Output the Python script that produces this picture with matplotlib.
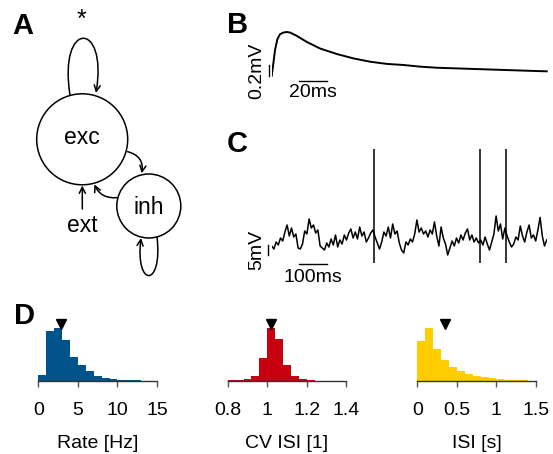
import numpy as np
import matplotlib
matplotlib.use("Agg")
import matplotlib.pyplot as plt
from matplotlib.patches import Circle, FancyArrowPatch
from matplotlib.path import Path

# datos del panel B (PSP), t en ms y v en mV
t_psp = [0, 1.2, 2.4, 4.1, 6.0, 8.4, 10.9, 13.3, 18.1, 25.3, 34.9, 47.0, 59.0, 71.0,
         83.1, 95.1, 107.1, 119.2, 131.2, 143.2, 155.3, 167.3, 179.3, 191.4, 198.6]
v_psp = [0, 0.23, 0.47, 0.67, 0.76, 0.79, 0.80, 0.79, 0.73, 0.62, 0.50, 0.40, 0.32,
         0.26, 0.22, 0.20, 0.17, 0.15, 0.14, 0.13, 0.12, 0.11, 0.10, 0.09, 0.085]

# datos del panel C (potencial de membrana), paso de 8 ms
t_vm = list(range(0, 1001, 8))
v_vm = [2, 0.5, 4, 2.5, 6, 4.5, 9, 12.5, 7, 11, 6.5, 8, 1, 0.5, 3, 9.5, 8, 15.5, 11, 12.5,
        8.5, 10, 2, 1, 0, 3.5, 1.5, 5.5, 2.5, 7.5, 1.5, 5, 3, 7.5, 5, 8.5, 10.5, 6, 9, 5.5,
        11.5, 7, 9, 4, 6, 8.5, 10, 6.5, 3.5, 0.5, 4, 9, 7, 11.5, 6, 13, 8, 9.5, 3.5, 0,
        -1.5, 4, 2.5, 5.5, 4, 8, 15, 9, 11, 8, 9.5, 6.5, 10, 8, 14, 7, 2, 11.5, 6, 3,
        -2.5, 1, 4.5, 2, 6, 3.5, 7.5, 5, 8.5, 10.5, 5, 7.5, 4, 6, 3.5, 5, 2.5, 6.5, 3, 0,
        4, 8, 17, 9.5, 13, 5.5, 11, 7, 4, 1.5, 3, 6.5, 5, 12, 7, 4, 9, 12.5, 6, 7.5,
        4.5, 10, 16.3, 7, 2, 5]
spike_t = [373, 759, 852]
spike_top = 50.3
spike_bottom = -6.3

# histogramas del panel D
rate_edges = np.arange(0, 16, 1.0)
rate_hist = [17, 149, 159, 122, 72, 47, 29, 15, 8, 5, 3, 2, 1, 0.5, 0]
rate_mean = 2.9
cv_edges = np.arange(0.80, 1.4001, 0.04)
cv_hist = [1, 2, 4, 14, 67, 159, 125, 47, 13, 5, 2, 0, 0, 0, 0]
cv_mean = 1.02
isi_edges = np.arange(0, 1.5001, 0.1)
isi_hist = [119, 159, 95, 62, 41, 29, 21, 15, 11, 8, 5, 3, 2, 1, 0.5]
isi_mean = 0.35

plt.rcParams['font.family'] = ['Liberation Sans', 'DejaVu Sans']
W, H = 553, 454
fig = plt.figure(figsize=(W / 100, H / 100), dpi=100)


def caja(left, top, width, height):
    # convierte pixeles a coordenadas de figura
    return [left / W, 1 - (top + height) / H, width / W, height / H]


# panel A: diagrama
axA = fig.add_axes([0, 0, 1, 1])
axA.set_xlim(0, W)
axA.set_ylim(H, 0)
axA.axis('off')
axA.patch.set_alpha(0)
axA.add_patch(Circle((82.2, 139.3), 45.5, fill=False, lw=1.1))
axA.add_patch(Circle((148.8, 206), 32, fill=False, lw=1.1))
axA.text(82.2, 138, 'exc', ha='center', va='center', fontsize=16.5)
axA.text(148.8, 207, 'inh', ha='center', va='center', fontsize=16.5)
axA.text(82.3, 226, 'ext', ha='center', va='center', fontsize=16.5)
axA.text(81.7, 20, '*', ha='center', va='center', fontsize=18)

estilo = dict(arrowstyle='->', mutation_scale=11, lw=1.1, color='k', shrinkA=0, shrinkB=0)
lazo1 = Path([(70, 95), (58, 20), (108, 20), (96, 93)],
             [Path.MOVETO, Path.CURVE4, Path.CURVE4, Path.CURVE4])
axA.add_patch(FancyArrowPatch(path=lazo1, **estilo))
lazo2 = Path([(157, 237), (163, 288), (135, 288), (141, 238)],
             [Path.MOVETO, Path.CURVE4, Path.CURVE4, Path.CURVE4])
axA.add_patch(FancyArrowPatch(path=lazo2, **estilo))
axA.add_patch(FancyArrowPatch((127.7, 151.7), (141.7, 173.3),
                              connectionstyle='arc3,rad=-0.45', **estilo))
axA.add_patch(FancyArrowPatch((116.7, 197.7), (94.3, 184.3),
                              connectionstyle='arc3,rad=-0.35', **estilo))
axA.add_patch(FancyArrowPatch((82.3, 209), (82.3, 185.5), **estilo))

# panel B
axB = fig.add_axes(caja(271.7, 28, 277, 52))
axB.plot(t_psp, v_psp, color='k', lw=1.4)
axB.set_xlim(0, 200)
axB.set_ylim(-0.073, 0.873)
axB.axis('off')
axB.plot([19.7, 39.7], [-0.091, -0.091], color='k', lw=1.0, clip_on=False)
axB.plot([-1.7, -1.7], [0.0, 0.2], color='k', lw=1.0, clip_on=False)
axB.text(29.6, -0.14, '20ms', ha='center', va='top', fontsize=14)
axB.text(-4.5, 0.1, '0.2mV', ha='right', va='center', rotation=90, fontsize=14)

# panel C
axC = fig.add_axes(caja(271.7, 146, 275, 120))
axC.plot(t_vm, v_vm, color='k', lw=1.1)
axC.vlines(spike_t, spike_bottom, spike_top, color='k', lw=1.1)
axC.set_xlim(0, 1000)
axC.set_ylim(-8, 52)
axC.axis('off')
axC.plot([99.3, 199.3], [-7, -7], color='k', lw=1.0, clip_on=False)
axC.plot([-12.4, -12.4], [-2.5, 2.5], color='k', lw=1.0, clip_on=False)
axC.text(149, -9.5, '100ms', ha='center', va='top', fontsize=14)
axC.text(-22, 0, '5mV', ha='right', va='center', rotation=90, fontsize=14)

# panel D
paneles = [
    (38.3, rate_edges, rate_hist, rate_mean, '#00538a', (0, 15), [0, 5, 10, 15],
     ['0', '5', '10', '15'], 'Rate [Hz]'),
    (227.7, cv_edges, cv_hist, cv_mean, '#c8000f', (0.8, 1.4), [0.8, 1.0, 1.2, 1.4],
     ['0.8', '1', '1.2', '1.4'], 'CV ISI [1]'),
    (417.3, isi_edges, isi_hist, isi_mean, '#ffcc00', (0, 1.5), [0, 0.5, 1.0, 1.5],
     ['0', '0.5', '1', '1.5'], 'ISI [s]'),
]
for left, edges, hist, media, color, lim, ticks, labels, nombre in paneles:
    ax = fig.add_axes(caja(left, 318, 118.7, 62.7))
    ax.patch.set_alpha(0)
    ancho = edges[1] - edges[0]
    ax.bar(edges[:-1], hist, width=ancho, align='edge', color=color, linewidth=0)
    ax.plot([media], [171], marker='v', color='k', markersize=7, clip_on=False)
    ax.set_xlim(*lim)
    ax.set_ylim(0, 188)
    for s in ['left', 'right', 'top']:
        ax.spines[s].set_visible(False)
    ax.spines['bottom'].set_color('#333333')
    ax.spines['bottom'].set_linewidth(1.0)
    ax.set_yticks([])
    ax.set_xticks(ticks)
    ax.set_xticklabels(labels)
    ax.tick_params(axis='x', direction='out', length=4.5, width=1.0, color='#555555',
                   pad=11, labelsize=14)
    ax.set_xlabel(nombre, fontsize=14, labelpad=11)

# letras de los paneles
for letra, x, y in [('A', 12, 12), ('B', 227, 11), ('C', 227, 130), ('D', 14, 302)]:
    fig.text(x / W, 1 - y / H, letra, fontsize=21, fontweight='bold', ha='left', va='top')

fig.savefig('out.png', dpi=100)
